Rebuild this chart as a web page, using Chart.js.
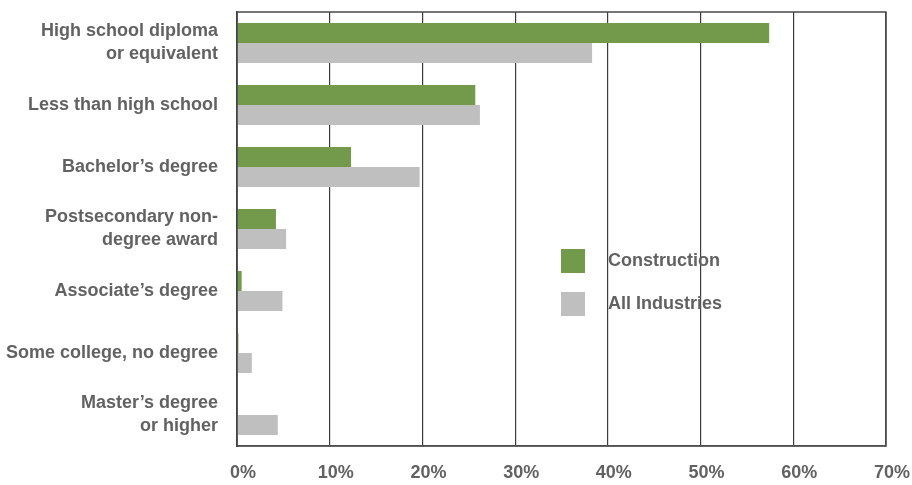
<!DOCTYPE html>
<html>
<head>
<meta charset="utf-8">
<script src="https://cdn.jsdelivr.net/npm/chart.js@4"></script>
<style>
  html, body { margin: 0; padding: 0; background: #fff; }
  #wrap { width: 912px; height: 485px; position: relative; }
</style>
</head>
<body>
<div id="wrap"><canvas id="eduChart"></canvas></div>
<script>
// ===== DATA =====
const categories = [
    ['High school diploma', 'or equivalent'],
    'Less than high school',
    'Bachelor\u2019s degree',
    ['Postsecondary non-', 'degree award'],
    'Associate\u2019s degree',
    'Some college, no degree',
    ['Master\u2019s degree', 'or higher']
];
const seriesNames = ['Construction', 'All Industries'];
const construction = [57.4, 25.7, 12.3, 4.2, 0.5, 0.15, 0];
const allIndustries = [38.3, 26.2, 19.7, 5.3, 4.9, 1.6, 4.4];
const xTicks = [0, 10, 20, 30, 40, 50, 60, 70];

const GREEN = '#739a4b';
const GRAY = '#bfbfbf';
const TEXT = '#626262';
const FONT = "'Liberation Sans', Arial, sans-serif";

// box around plot area + legend inside it
const frameAndLegend = {
    id: 'frameAndLegend',
    afterDraw(chart) {
        const ctx = chart.ctx;
        const a = chart.chartArea;
        ctx.save();
        ctx.strokeStyle = '#4a4a4a';
        ctx.lineWidth = 1.5;
        ctx.strokeRect(a.left, a.top, a.right - a.left, a.bottom - a.top);

        const x = 561, y0 = 249, gap = 43, box = 24;
        ctx.font = 'bold 18px ' + FONT;
        ctx.textBaseline = 'middle';
        chart.data.datasets.forEach((ds, i) => {
            const y = y0 + i * gap;
            ctx.fillStyle = ds.backgroundColor;
            ctx.fillRect(x, y, box, box);
            ctx.fillStyle = TEXT;
            ctx.fillText(ds.label, x + 47, y + box / 2);
        });
        ctx.restore();
    }
};

document.addEventListener('DOMContentLoaded', function() {
    new Chart(document.getElementById('eduChart'), {
        type: 'bar',
        data: {
            labels: categories,
            datasets: [
                { label: seriesNames[0], data: construction, backgroundColor: GREEN, borderWidth: 0,
                  categoryPercentage: 0.645, barPercentage: 1 },
                { label: seriesNames[1], data: allIndustries, backgroundColor: GRAY, borderWidth: 0,
                  categoryPercentage: 0.645, barPercentage: 1 }
            ]
        },
        options: {
            indexAxis: 'y',
            responsive: true,
            maintainAspectRatio: false,
            animation: false,
            layout: { padding: { top: 12, right: 26, bottom: 0, left: 0 } },
            plugins: {
                legend: { display: false },
                tooltip: { enabled: false }
            },
            scales: {
                x: {
                    min: xTicks[0],
                    max: xTicks[xTicks.length - 1],
                    afterBuildTicks: function(scale) {
                        scale.ticks = xTicks.map(v => ({ value: v }));
                    },
                    afterFit: function(scale) {
                        scale.height = 39;
                        scale.paddingLeft = 0;
                        scale.paddingRight = 0;
                    },
                    grid: { color: '#3c3c3c', lineWidth: 1.2, drawTicks: false },
                    border: { display: true, color: '#666', width: 1.5 },
                    ticks: {
                        padding: 16,
                        labelOffset: 6,
                        color: TEXT,
                        font: { family: FONT, size: 18, weight: 'bold' },
                        callback: v => v + '%'
                    }
                },
                y: {
                    afterFit: function(scale) {
                        scale.width = 237;
                        scale.paddingTop = 0;
                        scale.paddingBottom = 0;
                    },
                    grid: { display: false, drawTicks: false },
                    border: { display: true, color: '#333', width: 1.5 },
                    ticks: {
                        padding: 19,
                        color: TEXT,
                        font: { family: FONT, size: 18, weight: 'bold', lineHeight: 1.28 }
                    }
                }
            }
        },
        plugins: [frameAndLegend]
    });
});
</script>
</body>
</html>
